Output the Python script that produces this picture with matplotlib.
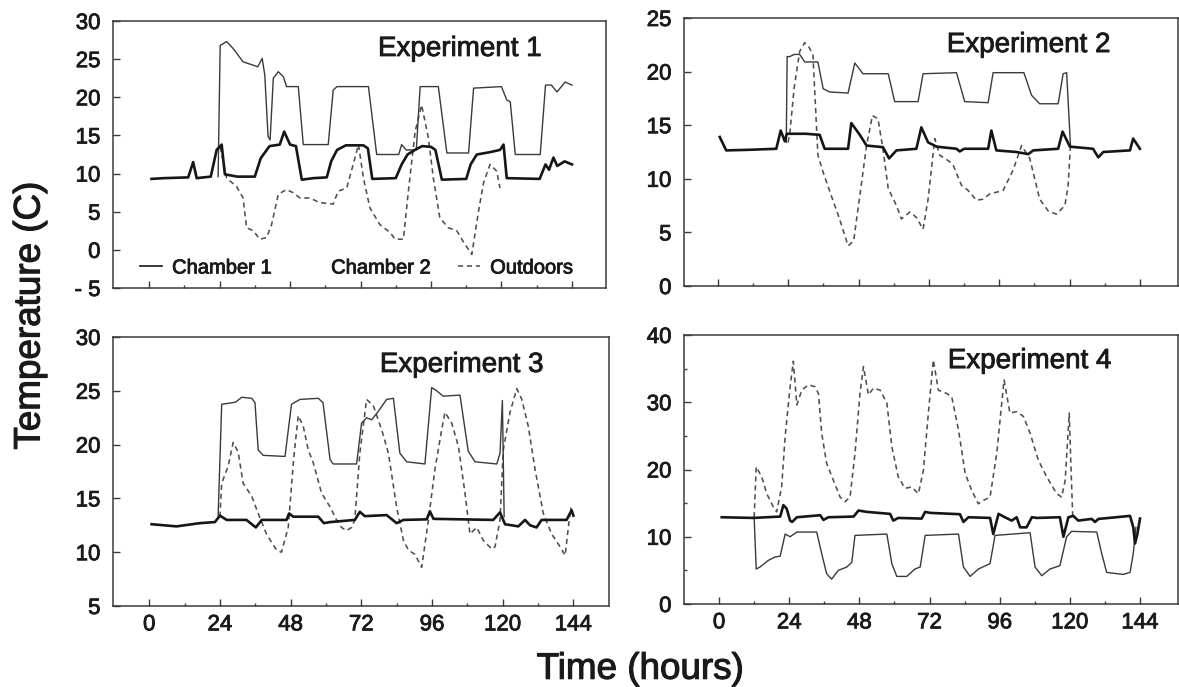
import matplotlib
matplotlib.use("Agg")
import matplotlib.pyplot as plt
from matplotlib.lines import Line2D
import matplotlib.patheffects as pe

plt.rcParams['font.family'] = ['Liberation Sans', 'DejaVu Sans']
plt.rcParams['xtick.direction'] = 'in'
plt.rcParams['ytick.direction'] = 'in'

# ---------------- data ----------------
x_ticks = [0, 24, 48, 72, 96, 120, 144]
x_minor = [12, 36, 60, 84, 108, 132]
series_names = ["Chamber 1", "Chamber 2", "Outdoors"]
titles = ["Experiment 1", "Experiment 2", "Experiment 3", "Experiment 4"]

# Experiment 1
e1_c1_t = [0.8, 5, 13.3, 15.0, 16.2, 21.0, 23.0, 24.7, 25.8, 30, 36, 38, 41, 44.5, 46, 48, 50, 52,
           56, 60.5, 62, 64, 67, 73, 74.5, 76, 84, 86, 88, 90.5, 93, 96, 97.5, 99.7, 108, 109.5,
           111.6, 116, 119.5, 120.7, 121.8, 133, 135, 136.2, 137.7, 139, 141.5, 144]
e1_c1_v = [9.3, 9.4, 9.5, 11.5, 9.4, 9.6, 13.1, 13.8, 9.9, 9.6, 9.6, 12.0, 13.6, 13.8, 15.5, 13.8, 13.6, 9.2,
           9.4, 9.5, 11.6, 13.1, 13.7, 13.7, 13.3, 9.3, 9.4, 11.2, 12.5, 13.1, 13.6, 13.5, 13.1, 9.2, 9.3, 11.2,
           12.5, 12.8, 13.1, 13.8, 9.4, 9.3, 11.2, 10.5, 12.1, 11.0, 11.6, 11.2]
e1_c2_t = [23.5, 24.2, 26.4, 28.6, 32, 35.5, 37, 38.5, 39.4, 40.5, 41.2, 42.3, 44, 45.7, 46.8, 50.8,
           52.5, 61, 62.7, 64, 74.7, 77.5, 85, 86, 87.5, 91, 92.3, 98.5, 101.4, 108.8, 110.5, 120,
           121.8, 123, 124.7, 133.2, 135, 137, 138.9, 141.7, 144]
e1_c2_v = [9.6, 26.8, 27.3, 26.4, 24.65, 24.2, 24.0, 25.1, 22.9, 14.9, 14.4, 22.5, 23.35, 22.7, 21.4, 21.4,
           13.8, 13.8, 20.95, 21.4, 21.4, 12.5, 12.5, 13.8, 13.1, 13.1, 21.4, 21.4, 12.7, 12.7, 21.2, 21.4,
           19.65, 19.4, 12.5, 12.5, 21.6, 21.6, 20.7, 22.0, 21.6]
e1_out_t = [24.2, 26.4, 29.8, 32, 33.2, 35.5, 37.7, 40, 41.7, 44, 46.8, 49, 51.4, 54.8, 58, 62.7, 64.4,
            67.3, 69.5, 71.3, 73, 75.2, 78.6, 82, 83.8, 86.6, 88.3, 90.6, 92.8, 95.1, 96.8, 99, 101.9,
            104.8, 107.6, 109.9, 112.2, 113.9, 116.1, 118.4, 119.5]
e1_out_v = [13.5, 9.4, 8.3, 6.8, 2.9, 2.5, 1.4, 1.6, 3.3, 7.3, 7.9, 7.5, 6.8, 6.8, 6.2, 6.0, 7.7,
            8.1, 11.2, 13.8, 9.4, 5.5, 3.3, 2.3, 1.4, 1.4, 7.7, 15.5, 19.0, 14.7, 9.4, 4.2, 2.9,
            2.5, 0.7, -0.6, 5.1, 8.8, 11.2, 10.3, 8.1]

# Experiment 2
e2_c1_t = [0.6, 2.8, 10, 19.9, 21.4, 22.8, 23.5, 30, 34.7, 36.4, 44.4, 45.5, 48.4, 50.7, 56.3, 58.4,
           60.9, 67.7, 69.4, 71.7, 74.6, 81.4, 82.5, 84, 92.2, 93.3, 95, 101.9, 105.9, 107.6, 116.1,
           117.6, 120.1, 128, 129.8, 131.5, 140.6, 141.7, 144]
e2_c1_v = [13.9, 12.65, 12.7, 12.8, 14.5, 13.5, 14.2, 14.2, 14.1, 12.8, 12.8, 15.2, 14.1, 13.1, 12.95, 11.9,
           12.65, 12.8, 14.8, 13.4, 13.0, 12.8, 12.55, 12.8, 12.8, 14.5, 12.65, 12.5, 12.3, 12.65, 12.8,
           14.4, 13.0, 12.8, 12.0, 12.5, 12.65, 13.75, 12.8]
e2_c2_t = [23.3, 23.6, 24.5, 26, 27.9, 29.6, 34.1, 35.9, 38.1, 44.4, 46.7, 49.5, 58.1, 60.3, 68.3, 70,
           81.4, 84.2, 92.2, 93.9, 104.4, 107, 109.8, 116.1, 117.8, 119, 120.3]
e2_c2_v = [13.4, 21.4, 21.4, 21.6, 21.6, 20.9, 20.9, 18.4, 18.1, 18.0, 20.8, 19.8, 19.8, 17.2, 17.2, 19.8,
           19.9, 17.2, 17.1, 19.9, 19.9, 17.8, 17.0, 17.0, 19.8, 19.9, 13.1]
e2_out_t = [23.9, 24.5, 26, 27.9, 29.6, 31, 32.4, 34.1, 35.9, 38.7, 41.5, 44.4, 46.3, 48.4, 50.7, 52.7,
            54.6, 56.3, 58.1, 60.9, 62.6, 65.5, 67.7, 70, 71.7, 74, 75.7, 79.1, 80.3, 83.1, 85.4, 88.2,
            90.5, 92.8, 97.3, 100.7, 103.6, 106.4, 109.8, 112.7, 115.5, 118.4, 119.5, 120.3]
e2_out_v = [13.4, 14.2, 18.5, 21.9, 22.7, 22.3, 21.6, 12.2, 10.6, 8.4, 6.25, 3.75, 4.2, 8.4, 13.1, 15.9,
            15.6, 12.8, 9.1, 7.5, 6.25, 6.9, 6.4, 5.3, 8.1, 13.75, 12.2, 11.6, 11.25, 9.4, 8.9, 8.0,
            8.1, 8.6, 8.9, 10.8, 13.1, 11.9, 8.1, 7.0, 6.7, 7.5, 9.4, 13.1]

# Experiment 3
e3_c1_t = [0.8, 9.3, 17.2, 22.3, 24, 26.3, 33, 36.2, 38.2, 46.6, 47.5, 48.9, 57.4, 59.3, 61.4, 69.8,
           71.5, 73.2, 80.6, 84, 86.3, 94.2, 95.3, 96.5, 116.8, 119.1, 120.8, 125.3, 127.6, 129.3,
           131.5, 133.2, 141.7, 143.4, 144]
e3_c1_v = [12.6, 12.4, 12.7, 12.8, 13.4, 13.0, 13.0, 12.3, 13.0, 13.0, 13.6, 13.3, 13.3, 12.7, 12.8, 13.0,
           13.75, 13.35, 13.45, 12.7, 13.0, 13.05, 13.8, 13.1, 13.0, 13.7, 12.6, 12.4, 13.0, 12.5,
           12.3, 13.0, 13.0, 13.9, 13.4]
e3_c2_t = [23.4, 24.6, 28.5, 29.6, 31.4, 34.8, 35.9, 37, 38.7, 46.1, 48.3, 51.2, 57.4, 59, 61.4, 62.5,
           70.4, 72.1, 73.8, 75.5, 77.8, 80.6, 82.9, 85.1, 87.4, 93.6, 95.9, 97.6, 99.8, 105.5, 108.3,
           110.6, 118, 119.1, 119.9, 120.5]
e3_c2_v = [13.4, 23.75, 23.9, 24.0, 24.4, 24.3, 23.9, 19.5, 19.0, 18.9, 23.75, 24.2, 24.3, 23.9, 18.6, 18.2,
           18.2, 22.0, 22.5, 22.3, 23.1, 24.2, 24.3, 19.2, 18.4, 18.2, 25.3, 25.0, 24.5, 24.6, 19.4,
           18.4, 18.2, 19.2, 24.1, 13.3]
e3_out_t = [24, 24.6, 26.8, 28.5, 30.2, 31.9, 34.8, 37, 39.8, 43.2, 44.9, 47.2, 49, 50.6, 52.3, 54,
            55.7, 58.5, 61.4, 63.6, 65.3, 67, 68.7, 69.8, 71.5, 73.8, 76.1, 78.9, 81.2, 84, 86.3, 88,
            90.2, 92.5, 94.8, 97, 99.3, 100.4, 102.7, 105, 107.2, 108.9, 111.2, 113.4, 116.3, 117.4,
            119.1, 120.2, 122.5, 124.8, 126.5, 128.7, 131, 133.8, 136.6, 139.5, 141.2, 142.3, 143.1, 144]
e3_out_v = [13.3, 16.4, 18.0, 20.2, 19.3, 16.4, 15.2, 13.6, 11.7, 10.2, 10.0, 12.3, 18.6, 22.7, 21.7, 19.5,
            18.3, 15.5, 14.2, 13.0, 12.3, 12.0, 12.3, 13.0, 19.2, 24.2, 23.6, 21.4, 19.2, 14.2, 11.1, 10.2,
            9.8, 8.6, 13.0, 17.7, 21.4, 23.0, 22.0, 19.8, 15.5, 11.7, 12.3, 11.1, 10.3, 10.5,
            13.0, 19.5, 23.0, 25.2, 24.2, 21.7, 17.7, 13.6, 11.7, 10.5, 9.7, 12.3, 14.1, 13.3]

# Experiment 4
e4_c1_t = [0.9, 11.7, 20.9, 22, 23.1, 24.3, 25, 26.6, 34.6, 35.7, 37.4, 46, 47.7, 50.5, 58.5, 59.6,
           61.3, 69.3, 70.5, 72.2, 82.4, 83.6, 85.3, 92.7, 93.8, 95.6, 97.8, 100.1, 101.8, 103, 105.2,
           107, 108.7, 116.6, 117.8, 119.5, 121.2, 122.9, 124.6, 127.5, 128.6, 129.8, 140.6, 141.7,
           142.3, 143.1, 144]
e4_c1_v = [12.9, 12.8, 13.0, 14.7, 14.2, 12.4, 12.2, 12.9, 13.2, 12.5, 12.9, 13.0, 13.9, 13.7, 13.4, 12.4,
           12.8, 12.7, 13.7, 13.55, 13.35, 12.2, 12.9, 12.8, 10.4, 13.4, 12.9, 12.4, 12.9, 11.4, 11.4,
           12.9, 12.8, 12.9, 10.0, 12.9, 13.1, 12.4, 12.5, 12.65, 12.2, 12.65, 13.1, 11.4,
           9.0, 10.4, 12.7]
e4_c2_t = [12, 12.7, 14, 16.9, 19.2, 20.9, 22.6, 24.3, 26.6, 33.4, 35.1, 36.8, 38.5, 40.8, 43.7, 45.4,
           46.5, 57.4, 59.1, 60.8, 64.2, 67, 68.8, 70.5, 81.9, 83.6, 85.9, 88.7, 92.7, 94.4, 106.4,
           108.1, 110.4, 113.2, 116.6, 118.9, 120.6, 129.2, 130.9, 132.6, 138.3, 140.6, 141.7, 142.6]
e4_c2_v = [12.9, 5.2, 5.5, 6.5, 7.0, 7.1, 10.4, 10.0, 10.7, 10.7, 7.5, 4.5, 3.7, 5.0, 5.5, 6.2,
           10.2, 10.4, 6.0, 4.1, 4.1, 5.2, 5.5, 10.2, 10.4, 5.5, 4.1, 5.2, 6.0, 10.2, 10.6,
           5.5, 4.2, 5.2, 5.7, 10.0, 10.8, 10.7, 7.5, 4.7, 4.4, 4.7, 7.5, 11.4]
e4_out_t = [12, 12.7, 14.6, 16.3, 18.6, 19.7, 21.4, 22.6, 24.3, 25.4, 26.6, 28.3, 30.6, 32.8, 34, 35.1,
            36.8, 39.1, 41.4, 43.1, 44.8, 46.5, 48.2, 49.4, 51.1, 52.8, 55.1, 57.4, 59.1, 61.3, 63.6,
            65.9, 68.2, 69.9, 71.6, 73.3, 75, 77.9, 79.6, 81.9, 84.2, 86.4, 88.7, 90.4, 92.7, 95, 96.7,
            97.5, 99.5, 101.8, 104.1, 106.4, 109.2, 112.1, 115.5, 117.2, 118.4, 119.8, 120.3, 121]
e4_out_v = [12.9, 20.4, 18.9, 16.4, 14.4, 13.7, 17.4, 24.9, 32.3, 36.1, 29.6, 31.8, 32.6, 32.3, 31.3, 25.4,
            20.9, 18.4, 15.9, 15.2, 15.9, 22.4, 31.3, 35.3, 31.1, 32.1, 31.8, 29.9, 23.4, 18.9, 17.2,
            17.4, 16.4, 19.9, 28.4, 36.3, 31.8, 31.3, 30.8, 25.9, 19.4, 16.9, 14.9, 15.4, 15.9, 22.4, 29.9,
            33.3, 28.4, 28.6, 27.9, 25.4, 21.4, 18.9, 16.4, 15.9, 18.4, 28.4, 21.4, 12.9]

y_ticks = [[-5, 0, 5, 10, 15, 20, 25, 30], [0, 5, 10, 15, 20, 25],
           [5, 10, 15, 20, 25, 30], [0, 10, 20, 30, 40]]
y_tick_labels = [["- 5", "0", "5", "10", "15", "20", "25", "30"], ["0", "5", "10", "15", "20", "25"],
                 ["5", "10", "15", "20", "25", "30"], ["0", "10", "20", "30", "40"]]
y_minor = [[], [], [], [5, 15, 25, 35]]
y_lims = [(-5, 30), (0, 25), (5, 30), (0, 40)]

data = [
    (e1_c1_t, e1_c1_v, e1_c2_t, e1_c2_v, e1_out_t, e1_out_v),
    (e2_c1_t, e2_c1_v, e2_c2_t, e2_c2_v, e2_out_t, e2_out_v),
    (e3_c1_t, e3_c1_v, e3_c2_t, e3_c2_v, e3_out_t, e3_out_v),
    (e4_c1_t, e4_c1_v, e4_c2_t, e4_c2_v, e4_out_t, e4_out_v),
]

# ---------------- layout ----------------
W, H = 1179, 687
fig = plt.figure(figsize=(W / 100, H / 100), dpi=100)
fig.patch.set_facecolor('white')

# axes boxes in pixels: left, top, right, bottom
boxes = [(113, 21, 606, 288), (684, 18, 1178, 286), (113, 337, 609, 606), (684, 335, 1178, 604)]
xlims = [(-12.3, 155.6), (-11.6, 157.0), (-12.3, 156.1), (-12.0, 157.0)]
title_pos = [(0.5375, 0.869), (0.532, 0.873), (0.538, 0.870), (0.534, 0.877)]

text_col = '#1a1a1a'
spine_col = '#3a3a3a'
bold_fx = [pe.withStroke(linewidth=0.6, foreground=text_col)]
c1_style = dict(color='#161616', lw=1.9, solid_joinstyle='round')
c2_style = dict(color='#3a3a3a', lw=1.0)
out_style = dict(color='#4f4f4f', lw=1.15, linestyle=(0, (3.2, 2.4)))

for i, (l, t, r, b) in enumerate(boxes):
    ax = fig.add_axes([l / W, 1 - b / H, (r - l) / W, (b - t) / H])
    c1t, c1v, c2t, c2v, ot, ov = data[i]
    ax.plot(ot, ov, **out_style, label=series_names[2])
    ax.plot(c2t, c2v, **c2_style, label=series_names[1])
    ax.plot(c1t, c1v, **c1_style, label=series_names[0])
    ax.set_xlim(*xlims[i])
    ax.set_ylim(*y_lims[i])
    ax.set_xticks(x_ticks)
    ax.set_xticks(x_minor, minor=True)
    ax.set_yticks(y_ticks[i])
    ax.set_yticklabels(y_tick_labels[i])
    if y_minor[i]:
        ax.set_yticks(y_minor[i], minor=True)
    if i < 2:
        ax.set_xticklabels([])
    else:
        ax.set_xticklabels([str(v) for v in x_ticks])
    ax.tick_params(which='major', direction='in', length=5, width=1.0, color=spine_col,
                   labelsize=16, labelcolor=text_col)
    ax.tick_params(which='minor', direction='in', length=2.5, width=1.0, color=spine_col)
    ax.tick_params(axis='y', which='both', pad=9)
    ax.tick_params(axis='x', which='both', pad=6)
    for lab in ax.get_xticklabels() + ax.get_yticklabels():
        lab.set_path_effects(bold_fx)
    for s in ax.spines.values():
        s.set_color(spine_col)
        s.set_linewidth(1.1)
    ax.text(title_pos[i][0], title_pos[i][1], titles[i], transform=ax.transAxes,
            ha='left', va='baseline', fontsize=20, color=text_col, path_effects=bold_fx)
    if i == 0:
        handles = [Line2D([], [], **c1_style),
                   Line2D([], [], color='white', lw=0, alpha=0),
                   Line2D([], [], **out_style)]
        handles[0].set_linewidth(1.2)
        leg = ax.legend(handles, series_names, ncol=3, frameon=False, loc='center',
                        bbox_to_anchor=(0.494, 0.075), fontsize=14.5, handlelength=1.1,
                        handletextpad=0.5, columnspacing=1.35, labelcolor=text_col,
                        borderaxespad=0, borderpad=0)
        for txt in leg.get_texts():
            txt.set_path_effects(bold_fx)

fig.text(30 / W, 1 - 316 / H, "Temperature (C)", rotation=90, ha='center', va='center',
         fontsize=26.5, color=text_col, path_effects=[pe.withStroke(linewidth=0.8, foreground=text_col)])
fig.text(640 / W, 0.012, "Time (hours)", ha='center', va='baseline', fontsize=26.5,
         color=text_col, path_effects=[pe.withStroke(linewidth=0.8, foreground=text_col)])

fig.savefig("out.png", dpi=100, facecolor='white')
